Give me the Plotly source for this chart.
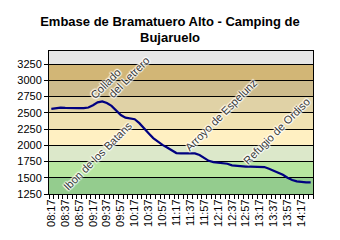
import plotly.graph_objects as go

TITLE = "Embase de Bramatuero Alto - Camping de<br>Bujaruelo"

# 57 categories (every ~6.7 min), labels every 3rd category
TIME_LABELS = ["08:17", "08:37", "08:57", "09:17", "09:37", "09:57", "10:17",
               "10:37", "10:57", "11:17", "11:37", "11:57", "12:17", "12:37",
               "12:57", "13:17", "13:37", "13:57", "14:17"]

ELEVATION = [2560, 2575, 2580, 2575, 2570, 2570, 2570, 2570, 2580, 2615,
             2660, 2675, 2650, 2605, 2540, 2465, 2425, 2410, 2400, 2340,
             2270, 2185, 2110, 2055, 2005, 1965, 1920, 1880, 1875, 1875,
             1875, 1875, 1850, 1800, 1760, 1740, 1735, 1730, 1715, 1690,
             1680, 1675, 1670, 1670, 1670, 1668, 1665, 1640, 1610, 1585,
             1545, 1500, 1465, 1445, 1435, 1430, 1430]

Y_TICKS = [1250, 1500, 1750, 2000, 2250, 2500, 2750, 3000, 3250]
BAND_EDGES = [1250, 1500, 1750, 2000, 2250, 2500, 2750, 3000, 3250, 3450]
BAND_COLORS = ["#94CC8E", "#B8E6A0", "#DCE8CA", "#FFF0C2", "#F0E2B2",
               "#E0D2A6", "#CDBB8C", "#D2B676", "#E6E6E6"]

LANDMARKS = ["Ibon de los Batans", "Collado", "del Letrero",
             "Arroyo de Espelunz", "Refugio de Ordiso"]

n = len(ELEVATION)
xs = list(range(n))
label_idx = [i * 3 for i in range(len(TIME_LABELS))]

FONT = "Arial, Liberation Sans, sans-serif"

fig = go.Figure()
fig.add_trace(go.Scatter(x=xs, y=ELEVATION, mode="lines",
                         line=dict(color="#000080", width=2.2),
                         hoverinfo="skip", showlegend=False))

shapes = []
for lo, hi, col in zip(BAND_EDGES[:-1], BAND_EDGES[1:], BAND_COLORS):
    shapes.append(dict(type="rect", xref="paper", x0=0, x1=1, yref="y",
                       y0=lo, y1=hi, fillcolor=col, line=dict(width=0),
                       layer="below"))

halo = "1px 1px 1px #fff, -1px -1px 1px #fff, 1px -1px 1px #fff, -1px 1px 1px #fff"
ann_pos = [(10.0, 1835), (11.6, 2945), (16.8, 3045), (36.6, 2465), (48.6, 2224)]
annotations = []
for name, (ax_, ay_) in zip(LANDMARKS, ann_pos):
    annotations.append(dict(x=ax_, y=ay_, xref="x", yref="y", text=name,
                            showarrow=False, textangle=-45,
                            font=dict(family=FONT, size=11, color="#3c3c3c",
                                      shadow=halo)))

fig.update_layout(
    width=340, height=240,
    margin=dict(l=49, r=27, t=51, b=46),
    paper_bgcolor="white", plot_bgcolor="#E6E6E6",
    title=dict(text=TITLE, x=0.5, xanchor="center", y=1 - 25.5 / 240,
               yanchor="middle",
               font=dict(family=FONT, size=13, color="black", weight="bold")),
    shapes=shapes, annotations=annotations,
    font=dict(family=FONT, size=11, color="black"),
)
fig.update_xaxes(range=[-0.5, n - 0.5], tickmode="array", tickvals=label_idx,
                 ticktext=TIME_LABELS, tickangle=-90, ticks="",
                 showgrid=False, zeroline=False, showline=True,
                 linecolor="black", linewidth=1, mirror=True,
                 tickfont=dict(family=FONT, size=11, color="black"),
                 minor=dict(ticks="outside", tick0=-0.5, dtick=1, ticklen=4,
                            tickcolor="black", showgrid=False))
fig.update_yaxes(range=[BAND_EDGES[0], BAND_EDGES[-1]], tickmode="array",
                 tickvals=Y_TICKS, ticks="outside", ticklen=4,
                 tickcolor="black", showgrid=True, gridcolor="black",
                 gridwidth=1, zeroline=False, showline=True,
                 linecolor="black", linewidth=1, mirror=True,
                 tickfont=dict(family=FONT, size=11, color="black"))

fig.write_html("out.html")
